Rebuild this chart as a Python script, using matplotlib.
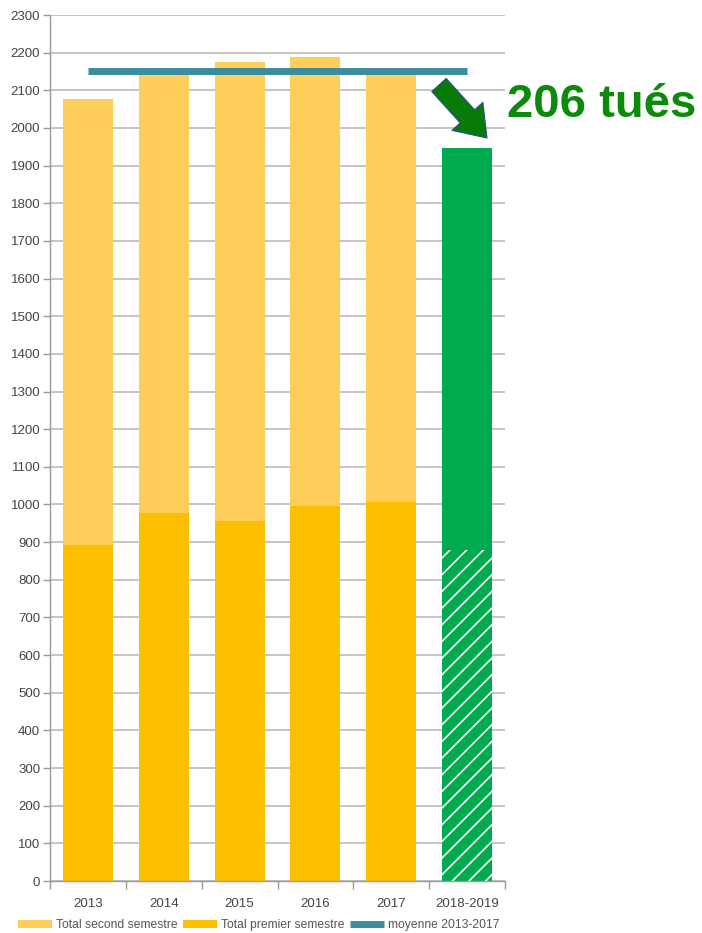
import matplotlib.pyplot as plt
import numpy as np

plt.rcParams['font.family'] = ['Liberation Sans', 'DejaVu Sans']
plt.rcParams['hatch.linewidth'] = 1.2

# tués par année (totaux annuels et premier semestre)
annees = ['2013', '2014', '2015', '2016', '2017']
total_annee = [2078, 2145, 2176, 2189, 2158]
premier_sem = [892, 977, 956, 996, 1007]
label_recent = '2018-2019'
total_recent = 1946
premier_recent = 879
moyenne = 2150
ecart = 206

labels = annees + [label_recent]
second_sem = [t - p for t, p in zip(total_annee, premier_sem)]

c_second = '#FDCF5A'
c_premier = '#FDBF00'
c_vert = '#00AA4E'
c_moy = '#3A8C9E'

fig = plt.figure(figsize=(7.02, 9.33), dpi=100)
ax = fig.add_axes([50/702, 1 - 881/933, 455/702, 866/933])

x = np.arange(len(annees))
w = 0.66
b_prem = ax.bar(x, premier_sem, w, color=c_premier, zorder=2)
b_sec = ax.bar(x, second_sem, w, bottom=premier_sem, color=c_second, zorder=2)

# 2018-2019 en vert, partie premier semestre hachurée
xr = len(annees)
ax.bar(xr, total_recent, w, color=c_vert, zorder=2)
ax.bar(xr, premier_recent, w, color='none', edgecolor='white', hatch='//', linewidth=0, zorder=3)

l_moy, = ax.plot([0, xr], [moyenne, moyenne], color=c_moy, lw=5, solid_capstyle='butt', zorder=4)

ax.set_xlim(-0.5, len(labels) - 0.5)
ax.set_ylim(0, 2300)
ax.set_yticks(np.arange(0, 2301, 100))
ax.set_xticks(np.arange(len(labels)))
ax.set_xticklabels(labels)
ax.set_xticks(np.arange(-0.5, len(labels)), minor=True)
ax.tick_params(axis='x', which='major', length=0, pad=12, labelsize=9.5, colors='#444444')
ax.tick_params(axis='x', which='minor', length=6, color='#999999', width=1)
ax.tick_params(axis='y', length=5, color='#999999', width=1, labelsize=9.5, labelcolor='#444444', pad=2)

ax.grid(axis='y', color='#b5b5b5', lw=1.1, zorder=0)
ax.set_axisbelow(True)
for s in ['top', 'right']:
    ax.spines[s].set_visible(False)
for s in ['left', 'bottom']:
    ax.spines[s].set_color('#999999')
    ax.spines[s].set_linewidth(1)

# flèche + annotation
ax.annotate('', xy=(487, 933 - 138), xytext=(439, 933 - 85),
            xycoords='figure pixels', textcoords='figure pixels',
            arrowprops=dict(arrowstyle='simple,head_length=2.1,head_width=3.0,tail_width=1.4',
                            fc='#087A08', ec='#2B4A9A', lw=0.8, shrinkA=0, shrinkB=0,
                            mutation_scale=10))
fig.text(507/702, 1 - 117/933, f'{ecart} tués', fontsize=34, fontweight='bold',
         color='#0B8A0B', va='baseline', ha='left')

fig.legend([b_sec, b_prem, l_moy],
           ['Total second semestre', 'Total premier semestre', 'moyenne 2013-2017'],
           loc='center left', bbox_to_anchor=(12/702, 1 - 925/933), ncol=3, frameon=False,
           fontsize=8.7, handlelength=2.8, handleheight=0.6, handletextpad=0.3,
           columnspacing=0.5, labelcolor='#555555', borderpad=0)

fig.savefig('out.png', dpi=100)
